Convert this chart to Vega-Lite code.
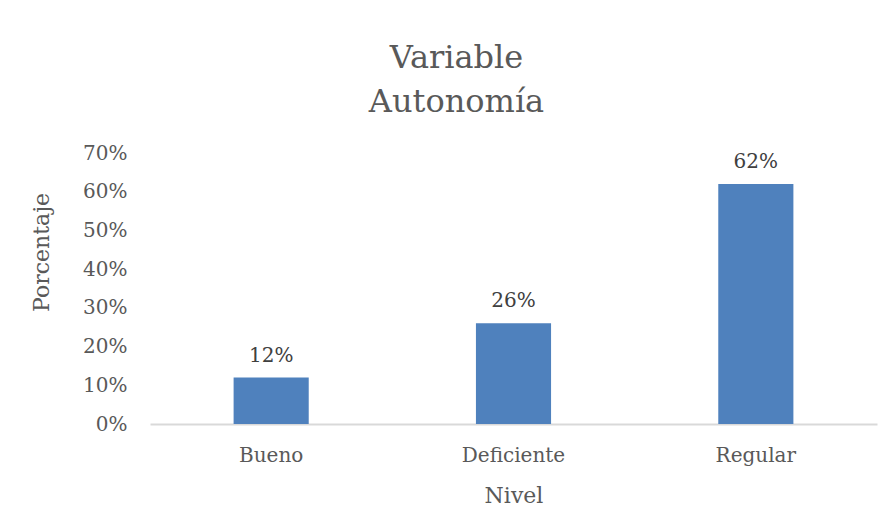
{
  "$schema": "https://vega.github.io/schema/vega-lite/v6.json",
  "width": 727,
  "height": 271,
  "autosize": "none",
  "padding": {"left": 150, "top": 153, "right": 12, "bottom": 107},
  "background": "white",
  "title": {
    "text": ["Variable", "Autonomía"],
    "font": "DejaVu Serif",
    "fontSize": 32,
    "fontWeight": "normal",
    "color": "#595959",
    "lineHeight": 44,
    "anchor": "middle",
    "dx": -57,
    "offset": 24
  },
  "data": {
    "values": [
      {"Nivel": "Bueno", "Porcentaje": 0.12},
      {"Nivel": "Deficiente", "Porcentaje": 0.26},
      {"Nivel": "Regular", "Porcentaje": 0.62}
    ]
  },
  "encoding": {
    "x": {
      "field": "Nivel",
      "type": "nominal",
      "sort": null,
      "scale": {"paddingInner": 0.69, "paddingOuter": 0.345},
      "axis": {
        "title": "Nivel",
        "labelAngle": 0,
        "labelFont": "DejaVu Serif",
        "labelFontSize": 20,
        "labelColor": "#595959",
        "labelPadding": 21,
        "ticks": false,
        "domainColor": "#D9D9D9",
        "domainWidth": 2,
        "titleFont": "DejaVu Serif",
        "titleFontSize": 22,
        "titleFontWeight": "normal",
        "titleColor": "#595959",
        "titlePadding": 20
      }
    },
    "y": {
      "field": "Porcentaje",
      "type": "quantitative",
      "scale": {"domain": [0, 0.7]},
      "axis": {
        "title": "Porcentaje",
        "format": ".0%",
        "values": [0, 0.1, 0.2, 0.3, 0.4, 0.5, 0.6, 0.7],
        "grid": false,
        "domain": false,
        "ticks": false,
        "labelFont": "DejaVu Serif",
        "labelFontSize": 20,
        "labelColor": "#595959",
        "labelPadding": 23,
        "titleFont": "DejaVu Serif",
        "titleFontSize": 22,
        "titleFontWeight": "normal",
        "titleColor": "#595959",
        "titleAlign": "center",
        "titleBaseline": "middle",
        "titleX": -109,
        "titleY": 99
      }
    }
  },
  "layer": [
    {"mark": {"type": "bar", "color": "#4F81BD"}},
    {
      "mark": {
        "type": "text",
        "baseline": "bottom",
        "dy": -12,
        "font": "DejaVu Serif",
        "fontSize": 20,
        "color": "#404040"
      },
      "encoding": {
        "text": {"field": "Porcentaje", "type": "quantitative", "format": ".0%"}
      }
    }
  ],
  "config": {"view": {"stroke": null}}
}
